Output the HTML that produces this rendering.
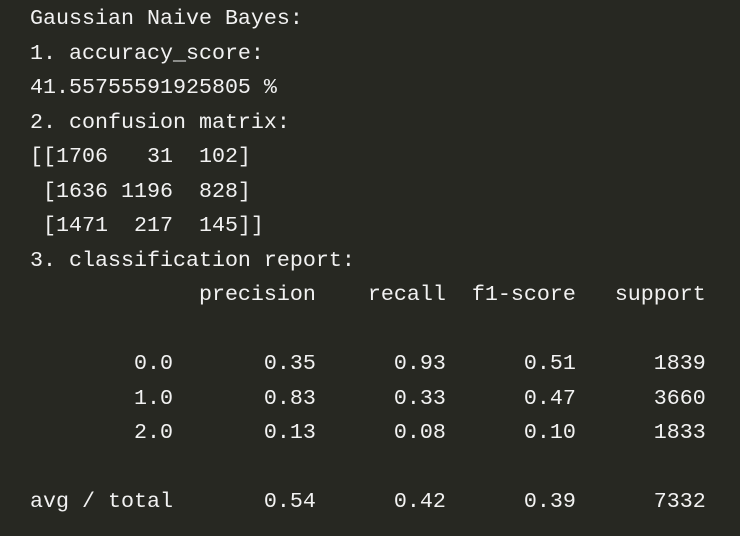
<!DOCTYPE html>
<html><head><meta charset="utf-8"><style>
html,body{margin:0;padding:0;background:#272822;width:740px;height:536px;overflow:hidden}
pre{margin:0;padding:2px 0 0 30px;font-family:"Liberation Mono",monospace;font-size:21.67px;line-height:34.5px;color:#f2f2f2;white-space:pre}
</style></head><body>
<pre>Gaussian Naive Bayes:
1. accuracy_score:
41.55755591925805 %
2. confusion matrix:
[[1706   31  102]
 [1636 1196  828]
 [1471  217  145]]
3. classification report:
             precision    recall  f1-score   support

        0.0       0.35      0.93      0.51      1839
        1.0       0.83      0.33      0.47      3660
        2.0       0.13      0.08      0.10      1833

avg / total       0.54      0.42      0.39      7332</pre>
</body></html>
